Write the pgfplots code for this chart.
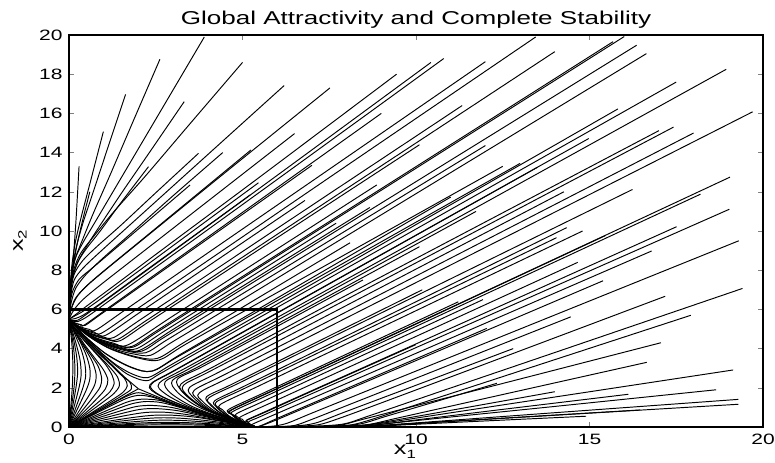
\documentclass[border=0pt]{standalone}
\usepackage{fontspec}
\setmainfont{Liberation Sans}
\usepackage{graphicx}
\usepackage{pgfplots}
\pgfplotsset{compat=1.18}
\newcommand{\sx}[1]{\scalebox{1.4}[1]{#1}}
\begin{document}
\begin{tikzpicture}
\begin{axis}[
  name=ax,
  width=347pt, height=196pt, scale only axis,
  xmin=0, xmax=20, ymin=0, ymax=20,
  xtick={0,5,...,20}, ytick={0,2,...,20},
  tick align=inside, tick pos=both, major tick length=2.5pt,
  /pgf/number format/assume math mode=true,
  xticklabel={\sx{\pgfmathprintnumber{\tick}}},
  yticklabel={\sx{\pgfmathprintnumber{\tick}}},
  ticklabel style={font=\fontsize{7.5}{8}\selectfont},
  xticklabel style={inner sep=0pt, yshift=-3.5pt},
  yticklabel style={inner sep=0pt, xshift=-3pt},
  axis line style={line width=0.6pt},
  title={\sx{Global Attractivity and Complete Stability}},
  every axis title/.style={font=\fontsize{9.3}{10}\selectfont, at={(rel axis cs:0.5,1)}, anchor=south, inner sep=0pt, yshift=3pt},
  xlabel={\sx{x\raisebox{-0.4ex}{\fontsize{6}{6}\selectfont 1}}},
  every axis x label/.style={at={(rel axis cs:0.484,0)}, anchor=north, inner sep=0pt, yshift=-9pt, font=\fontsize{9}{10}\selectfont},
  ylabel={\sx{x\raisebox{-0.4ex}{\fontsize{6}{6}\selectfont 2}}},
  every axis y label/.style={at={(rel axis cs:0,0.475)}, xshift=-21pt, rotate=90, anchor=south, inner sep=0pt, font=\fontsize{9}{10}\selectfont},
  traj/.style={black, line width=0.48pt, smooth, tension=0.5, mark=none},
]
% ---- upper family, steep (near x2 axis)
\addplot[traj] coordinates {(0.29,13.3)(0.2,10.5)(0.12,8.5)(0.05,6.8)(0.01,5.7)(0,5.5)};
\addplot[traj] coordinates {(0.6,12.0)(0.4,10.6)(0.22,9.2)(0.1,7.9)(0.04,6.8)(0.01,5.9)(0,5.55)};
\addplot[traj] coordinates {(0.99,15.07)(0.6,12.4)(0.35,10.7)(0.18,9.4)(0.08,8.2)(0.03,7.0)(0.01,6.0)(0,5.55)};
\addplot[traj] coordinates {(1.63,16.97)(1.1,14.15)(0.7,12.0)(0.4,10.4)(0.2,9.1)(0.08,7.9)(0.03,6.8)(0.01,5.9)(0,5.55)};
\addplot[traj] coordinates {(2.62,18.76)(1.8,15.4)(1.18,12.84)(0.7,10.9)(0.4,9.6)(0.2,8.7)(0.08,7.8)(0.03,6.8)(0.01,5.9)(0,5.55)};
\addplot[traj] coordinates {(3.32,16.6)(2.3,13.96)(1.5,11.9)(0.9,10.3)(0.5,9.2)(0.25,8.4)(0.1,7.6)(0.04,6.7)(0.01,5.9)(0,5.55)};
\addplot[traj] coordinates {(3.9,19.9)(2.6,16.0)(1.5,12.7)(0.8,10.6)(0.4,9.4)(0.18,8.6)(0.07,7.7)(0.025,6.7)(0.005,5.9)(0,5.55)};
\addplot[traj] coordinates {(5.0,18.6)(3.5,15.5)(2.2,12.8)(1.3,11.0)(0.7,9.7)(0.35,8.9)(0.15,8.1)(0.05,7.1)(0.015,6.1)(0,5.55)};
\addplot[traj] coordinates {(2.29,13.28)(1.5,11.45)(0.9,10.0)(0.5,9.1)(0.25,8.4)(0.1,7.6)(0.04,6.7)(0.01,5.9)(0,5.55)};
\addplot[traj] coordinates {(3.73,13.96)(2.5,11.95)(1.5,10.3)(0.8,9.2)(0.4,8.5)(0.15,7.8)(0.05,6.9)(0.015,6.0)(0,5.55)};
\addplot[traj] coordinates {(4.43,14.0)(3,11.8)(1.8,9.9)(1.0,8.65)(0.5,7.8)(0.2,7.1)(0.07,6.4)(0.02,5.8)(0,5.55)};
\addplot[traj] coordinates {(5.24,14.13)(3.6,11.74)(2.2,9.7)(1.2,8.25)(0.6,7.35)(0.25,6.7)(0.08,6.1)(0.02,5.7)(0,5.52)};
\addplot[traj] coordinates {(3.49,12.35)(2.3,10.55)(1.3,9.05)(0.7,8.15)(0.3,7.55)(0.1,6.9)(0.03,6.2)(0,5.55)};
\addplot[traj] coordinates {(6.2,17.42)(4,13.9)(2,10.7)(0.9,8.94)(0.4,8.1)(0.15,7.5)(0.05,6.7)(0.015,6.0)(0,5.55)};
\addplot[traj] coordinates {(6.5,14.97)(4,11.52)(2,8.76)(0.9,7.24)(0.4,6.5)(0.15,6.0)(0.04,5.65)(0,5.5)};
\addplot[traj] coordinates {(5.46,12.46)(3.8,10.3)(2.4,8.47)(1.4,7.17)(0.8,6.39)(0.4,5.9)(0.15,5.65)(0,5.5)};
\addplot[traj] coordinates {(5.22,11.84)(3.6,9.76)(2.3,8.1)(1.4,6.94)(0.8,6.17)(0.4,5.7)(0.15,5.52)(0,5.5)};
\addplot[traj] coordinates {(7.52,17.3)(4.5,12.98)(2.2,9.67)(1.0,7.94)(0.45,7.1)(0.18,6.55)(0.06,6.0)(0.01,5.6)(0,5.5)};
\addplot[traj] coordinates {(9.44,18)(5.5,12.76)(2.8,9.2)(1.2,7.08)(0.5,6.16)(0.2,5.75)(0.05,5.56)(0,5.5)};
\addplot[traj] coordinates {(10.43,18.6)(6,12.84)(3,8.97)(1.2,6.65)(0.55,5.81)(0.25,5.45)(0.08,5.45)(0,5.5)};
\addplot[traj] coordinates {(10.8,18.8)(6,12.63)(3,8.79)(1.2,6.49)(0.55,5.66)(0.25,5.38)(0.08,5.42)(0,5.5)};
% ---- upper family, middle
\addplot[traj] coordinates {(7,13.35)(4,9.6)(2,7.1)(0.9,5.73)(0.47,5.19)(0.35,5.22)(0.21,5.28)(0.09,5.38)(0,5.5)};
\addplot[traj] coordinates {(12,18.64)(7,12.54)(3.5,8.27)(1.6,5.95)(0.79,4.96)(0.59,4.98)(0.36,5.09)(0.16,5.27)(0,5.5)};
\addplot[traj] coordinates {(6.8,11.56)(4,8.2)(2.2,6.04)(1.09,4.71)(0.82,4.75)(0.49,4.92)(0.22,5.17)(0,5.5)};
\addplot[traj] coordinates {(13.45,19.9)(8,13.33)(4,8.49)(2.0,6.07)(0.96,4.81)(0.72,4.85)(0.43,4.99)(0.19,5.22)(0,5.5)};
\addplot[traj] coordinates {(9,16)(5,10.95)(2.5,7.8)(1.2,6.16)(0.44,5.2)(0.33,5.22)(0.2,5.28)(0.09,5.38)(0,5.5)};
\addplot[traj] coordinates {(11.33,16.4)(7,11.31)(4,7.77)(2.0,5.41)(1.28,4.56)(0.96,4.61)(0.58,4.81)(0.26,5.12)(0,5.5)};
\addplot[traj] coordinates {(8.87,12.35)(5,7.95)(3,5.67)(1.71,4.2)(1.28,4.28)(0.77,4.56)(0.34,4.98)(0,5.5)};
\addplot[traj] coordinates {(8.67,11.2)(5,7.18)(3,4.98)(2.03,3.91)(1.52,4.01)(0.91,4.36)(0.41,4.88)(0,5.5)};
\addplot[traj] coordinates {(10.1,14.4)(6,9.66)(3.5,6.76)(2.2,5.25)(1.47,4.40)(1.10,4.47)(0.66,4.70)(0.29,5.06)(0,5.5)};
\addplot[traj] coordinates {(14.0,19.15)(8,12.16)(4,7.5)(2.2,5.40)(1.4,4.465)(1.05,4.52)(0.63,4.745)(0.28,5.085)(0,5.5)};
\addplot[traj] coordinates {(16,19.92)(9,12.08)(5,7.6)(2.6,4.91)(1.86,4.08)(1.40,4.16)(0.84,4.47)(0.37,4.94)(0,5.5)};
\addplot[traj] coordinates {(15.68,19.66)(8,11.04)(4,6.56)(2.5,4.88)(1.81,4.11)(1.36,4.19)(0.81,4.50)(0.36,4.95)(0,5.5)};
\addplot[traj] coordinates {(12,14.36)(7,8.96)(4,5.72)(2.8,4.42)(2.21,3.79)(1.66,3.88)(1.0,4.25)(0.44,4.82)(0,5.5)};
\addplot[traj] coordinates {(16.36,19.48)(8,10.33)(4,5.95)(2.7,4.53)(2.1,3.87)(1.575,3.96)(0.945,4.32)(0.42,4.86)(0,5.5)};
\addplot[traj] coordinates {(16.64,19.05)(8,9.75)(3.95,5.38)(2.95,4.31)(2.35,3.66)(1.88,3.72)(1.41,3.92)(0.94,4.27)(0.59,4.63)(0.28,5.03)(0,5.5)};
\addplot[traj] coordinates {(15.82,16.23)(8,8.3)(4,4.25)(2.9,3.13)(2.28,2.525)(1.83,2.70)(1.37,3.16)(0.91,3.82)(0.57,4.41)(0.27,4.96)(0,5.5)};
\addplot[traj] coordinates {(12.5,13.3)(6,6.86)(3.4,4.26)(2.6,3.42)(1.95,3.54)(1.17,4.0)(0.52,4.69)(0,5.5)};
\addplot[traj] coordinates {(13,13.45)(6,6.45)(3.2,3.65)(2.4,2.85)(1.8,3.03)(1.08,3.71)(0.48,4.60)(0,5.5)};
\addplot[traj] coordinates {(11,11.73)(6,6.58)(3.3,3.8)(2.4,2.86)(1.8,3.05)(1.08,3.72)(0.48,4.60)(0,5.5)};
\addplot[traj] coordinates {(17.5,17.6)(8,8.1)(3.5,3.6)(2.6,2.7)(2.225,2.36)(1.67,2.71)(1.0,3.66)(0.45,4.63)(0,5.5)};
\addplot[traj] coordinates {(8.1,9.4)(5,6.11)(3.3,4.30)(2.54,3.5)(1.9,3.60)(1.14,4.05)(0.51,4.71)(0,5.5)};
\addplot[traj] coordinates {(7.7,10.4)(4.5,6.84)(2.8,4.95)(1.94,3.99)(1.46,4.08)(0.87,4.41)(0.39,4.91)(0,5.5)};
% ---- lower family
\addplot[traj] coordinates {(18.94,18.25)(8.5,8.03)(3.6,3.24)(2.6,2.24)(2.79,1.68)(3.50,1.01)(4.44,0.45)(5.4,0)};
\addplot[traj] coordinates {(14.98,14.72)(7,6.82)(3.2,3.05)(2.33,2.15)(2.61,1.61)(3.47,0.97)(4.47,0.43)(5.4,0)};
\addplot[traj] coordinates {(11.73,11)(6,5.44)(3.4,2.91)(2.77,2.305)(2.93,1.73)(3.56,1.04)(4.45,0.46)(5.4,0)};
\addplot[traj] coordinates {(17.42,15.3)(8,6.51)(4.2,2.97)(3.3,2.13)(3.42,1.6)(3.91,0.96)(4.60,0.43)(5.4,0)};
\addplot[traj] coordinates {(17,15.12)(8,6.73)(4.2,3.11)(3.23,2.2)(3.35,1.65)(3.85,0.99)(4.57,0.44)(5.4,0)};
\addplot[traj] coordinates {(14.26,12)(7,5.28)(4.3,2.78)(3.47,2.01)(3.58,1.51)(4.01,0.90)(4.66,0.40)(5.4,0)};
\addplot[traj] coordinates {(18,15)(8,5.88)(4.6,2.78)(3.61,1.875)(3.71,1.41)(4.11,0.84)(4.71,0.375)(5.4,0)};
\addplot[traj] coordinates {(19.7,16.08)(9,6.47)(4.8,2.69)(3.76,1.75)(3.85,1.31)(4.22,0.79)(4.76,0.35)(5.4,0)};
\addplot[traj] coordinates {(10.18,7)(6,3.33)(4.6,2.1)(3.97,1.555)(4.05,1.17)(4.37,0.70)(4.84,0.31)(5.4,0)};
\addplot[traj] coordinates {(14.8,10)(8,4.24)(5.5,2.12)(4.37,1.16)(4.43,0.87)(4.65,0.52)(4.99,0.23)(5.4,0)};
\addplot[traj] coordinates {(19.05,12.75)(10,5.27)(6,1.97)(4.66,0.86)(4.70,0.645)(4.86,0.39)(5.10,0.17)(5.4,0)};
\addplot[traj] coordinates {(18.2,11.88)(10,5.13)(6,1.84)(4.73,0.8)(4.76,0.6)(4.91,0.36)(5.13,0.16)(5.4,0)};
\addplot[traj] coordinates {(11.93,6.5)(7,2.46)(5.5,1.23)(4.83,0.68)(4.86,0.51)(4.98,0.31)(5.17,0.14)(5.4,0)};
\addplot[traj] coordinates {(19.03,11.11)(10,4.05)(6.5,1.31)(5.5,0.52)(5.18,0.275)(5.22,0.15)(5.3,0.05)(5.4,0)};
\addplot[traj] coordinates {(16.24,12.12)(8,4.95)(5,2.33)(4.03,1.49)(4.11,1.12)(4.41,0.67)(4.87,0.30)(5.4,0)};
\addplot[traj] coordinates {(17.51,10.22)(10,4.24)(6.5,1.46)(5.6,0.74)(5.12,0.355)(5.14,0.27)(5.19,0.16)(5.28,0.07)(5.4,0)};
\addplot[traj] coordinates {(16.79,8.98)(10,3.76)(7,1.46)(5.8,0.54)(5.29,0.145)(5.3,0.07)(5.4,0)};
\addplot[traj] coordinates {(9.99,4.2)(7,1.83)(5.8,0.87)(5.13,0.345)(5.15,0.26)(5.2,0.15)(5.28,0.06)(5.4,0)};
\addplot[traj] coordinates {(14.34,10.17)(7,3.78)(5,2.04)(4.2,1.34)(4.26,1.0)(4.53,0.6)(4.93,0.27)(5.4,0)};
\addplot[traj] coordinates {(14.05,9.66)(7,3.63)(5,1.92)(4.25,1.285)(4.31,0.96)(4.57,0.58)(4.95,0.26)(5.4,0)};
\addplot[traj] coordinates {(15.45,9.76)(8,3.6)(5.8,1.79)(4.67,0.85)(4.71,0.64)(4.87,0.38)(5.11,0.17)(5.4,0)};
\addplot[traj] coordinates {(14.66,8.4)(8,3.0)(6,1.38)(4.96,0.535)(4.99,0.40)(5.08,0.24)(5.22,0.11)(5.4,0)};
\addplot[traj] coordinates {(15.39,7.46)(10,3.39)(7,1.13)(6,0.38)(5.6,0.1)(5.45,0.02)(5.4,0)};
\addplot[traj] coordinates {(19.3,9.5)(13,5.0)(9,2.14)(7,0.71)(6.3,0.2)(5.9,0.05)(5.4,0)};
\addplot[traj] coordinates {(17.18,6.67)(12,3.22)(9,1.23)(7.8,0.45)(7.2,0.12)(6.5,0.035)(5.9,0.01)(5.4,0)};
\addplot[traj] coordinates {(12.8,4)(10,2.13)(8,0.8)(7.1,0.2)(6.5,0.05)(5.9,0.015)(5.4,0)};
\addplot[traj] coordinates {(19.41,7.07)(14,3.80)(10.5,1.69)(8.6,0.54)(7.9,0.15)(7.0,0.04)(6.0,0.01)(5.4,0)};
\addplot[traj] coordinates {(17.92,5.7)(13,2.86)(10,1.13)(8.6,0.32)(8.0,0.08)(7.0,0.025)(6.0,0.008)(5.4,0)};
\addplot[traj] coordinates {(17.06,4.3)(13,2.45)(10,1.09)(8.4,0.36)(7.8,0.09)(7.0,0.025)(6,0.008)(5.4,0)};
\addplot[traj] coordinates {(14.46,5.62)(10,2.49)(8,1.09)(7,0.39)(6.5,0.08)(6.0,0.02)(5.4,0)};
\addplot[traj] coordinates {(12.04,5.03)(9,2.72)(7,1.2)(6,0.44)(5.6,0.12)(5.45,0.02)(5.4,0)};
\addplot[traj] coordinates {(11.22,6.39)(7,2.89)(5.6,1.73)(4.61,0.907)(4.66,0.68)(4.83,0.41)(5.09,0.18)(5.4,0)};
\addplot[traj] coordinates {(16.65,3.3)(12,1.46)(9.5,0.47)(8.6,0.12)(7.8,0.04)(6.8,0.015)(5.4,0)};
\addplot[traj] coordinates {(19.14,2.91)(14,1.53)(10.5,0.59)(9,0.19)(8.1,0.05)(7,0.015)(5.4,0)};
\addplot[traj] coordinates {(18.65,1.9)(14,1.05)(11,0.51)(9.2,0.18)(8.4,0.04)(7.2,0.012)(5.4,0)};
\addplot[traj] coordinates {(12.33,2.23)(10.5,1.26)(9.2,0.58)(8.4,0.16)(7.6,0.04)(6.5,0.01)(5.4,0)};
\addplot[traj] coordinates {(14,1.8)(11,0.85)(9.3,0.32)(8.5,0.08)(7.5,0.02)(5.4,0)};
\addplot[traj] coordinates {(16.12,1.67)(12.5,0.90)(10,0.36)(8.8,0.1)(7.8,0.025)(5.4,0)};
\addplot[traj] coordinates {(19.29,1.41)(14,0.73)(11,0.34)(9.2,0.11)(8.2,0.03)(5.4,0)};
\addplot[traj] coordinates {(19.29,1.16)(14,0.60)(11,0.28)(9.3,0.10)(8.3,0.025)(5.4,0)};
\addplot[traj] coordinates {(16.46,0.87)(12,0.40)(10,0.19)(8.8,0.06)(7.8,0.015)(5.4,0)};
\addplot[traj] coordinates {(14.9,0.55)(12,0.31)(10,0.14)(8.8,0.04)(7.5,0.01)(5.4,0)};
\addplot[traj] coordinates {(8.47,7.5)(5,4.18)(3.8,3.04)(3.12,2.43)(3.26,1.82)(3.78,1.09)(4.54,0.49)(5.4,0)};
\addplot[traj] coordinates {(10.1,9.2)(6,5.26)(3.7,3.05)(2.98,2.38)(3.12,1.785)(3.68,1.07)(4.49,0.48)(5.4,0)};
\addplot[traj] coordinates {(13.5,13.25)(6,5.81)(3.1,2.93)(2.36,2.16)(2.62,1.62)(3.47,0.97)(4.46,0.43)(5.4,0)};
% ---- inner trajectories from the origin, to (0,5.5)
\addplot[traj] coordinates {(0,0)(0.6,0.63)(1.2,1.25)(1.6,1.68)(1.8,1.95)(1.75,2.30)(1.5,2.66)(1.1,3.35)(0.7,4.0)(0.35,4.7)(0.1,5.2)(0,5.5)};
\addplot[traj] coordinates {(0,0)(0.6,0.67)(1.2,1.34)(1.55,1.76)(1.68,2.1)(1.6,2.48)(1.32,3.0)(0.95,3.65)(0.57,4.3)(0.25,4.88)(0.07,5.28)(0,5.5)};
\addplot[traj] coordinates {(0,0)(0.5,0.65)(1.0,1.3)(1.3,1.72)(1.45,2.1)(1.4,2.55)(1.15,3.1)(0.8,3.75)(0.45,4.4)(0.15,5.05)(0,5.5)};
\addplot[traj] coordinates {(0,0)(0.45,0.68)(0.9,1.35)(1.18,1.8)(1.3,2.2)(1.24,2.65)(1.05,3.2)(0.75,3.8)(0.42,4.45)(0.15,5.08)(0,5.5)};
\addplot[traj] coordinates {(0,0)(0.4,0.72)(0.8,1.44)(1.05,1.95)(1.12,2.4)(1.0,2.9)(0.75,3.5)(0.45,4.2)(0.18,4.95)(0,5.5)};
\addplot[traj] coordinates {(0,0)(0.35,0.77)(0.7,1.54)(0.9,2.05)(0.94,2.5)(0.84,3.1)(0.62,3.7)(0.36,4.35)(0.12,5.05)(0,5.5)};
\addplot[traj] coordinates {(0,0)(0.3,0.84)(0.6,1.68)(0.75,2.2)(0.78,2.7)(0.68,3.3)(0.48,3.95)(0.25,4.6)(0.08,5.15)(0,5.5)};
\addplot[traj] coordinates {(0,0)(0.25,0.95)(0.5,1.9)(0.6,2.45)(0.6,3.0)(0.5,3.65)(0.32,4.35)(0.12,5.0)(0,5.5)};
\addplot[traj] coordinates {(0,0)(0.2,1.0)(0.4,2.0)(0.48,2.6)(0.46,3.2)(0.36,3.9)(0.2,4.6)(0.06,5.2)(0,5.5)};
\addplot[traj] coordinates {(0,0)(0.15,1.05)(0.3,2.1)(0.35,2.7)(0.32,3.4)(0.22,4.15)(0.09,4.95)(0,5.5)};
\addplot[traj] coordinates {(0,0)(0.1,1.0)(0.2,2.0)(0.25,2.8)(0.22,3.6)(0.14,4.4)(0.05,5.1)(0,5.5)};
\addplot[traj] coordinates {(0,0)(0.07,1.0)(0.15,2.1)(0.17,3.0)(0.14,3.9)(0.07,4.8)(0,5.5)};
\addplot[traj] coordinates {(0,0)(0.05,1.0)(0.1,2.2)(0.11,3.3)(0.08,4.3)(0.03,5.1)(0,5.5)};
% ---- inner trajectories from the origin, to (5.4,0)
\addplot[traj] coordinates {(0,0)(0.63,0.6)(1.25,1.2)(1.7,1.6)(2.0,1.75)(2.35,1.6)(2.9,1.25)(3.6,0.82)(4.4,0.41)(5.0,0.13)(5.4,0)};
\addplot[traj] coordinates {(0,0)(0.67,0.6)(1.34,1.2)(1.72,1.5)(2.05,1.62)(2.45,1.5)(3.0,1.15)(3.65,0.76)(4.3,0.42)(4.85,0.16)(5.2,0.04)(5.4,0)};
\addplot[traj] coordinates {(0,0)(0.65,0.5)(1.3,1.0)(1.72,1.3)(2.1,1.42)(2.6,1.36)(3.2,1.05)(3.9,0.66)(4.6,0.29)(5.1,0.08)(5.4,0)};
\addplot[traj] coordinates {(0,0)(0.68,0.45)(1.35,0.9)(1.8,1.18)(2.2,1.3)(2.65,1.25)(3.2,1.0)(3.85,0.64)(4.5,0.32)(5.0,0.1)(5.4,0)};
\addplot[traj] coordinates {(0,0)(0.72,0.4)(1.44,0.8)(1.95,1.05)(2.4,1.1)(2.95,1.0)(3.6,0.72)(4.3,0.4)(4.9,0.15)(5.4,0)};
\addplot[traj] coordinates {(0,0)(0.77,0.35)(1.54,0.7)(2.05,0.9)(2.5,0.94)(3.1,0.84)(3.7,0.62)(4.35,0.36)(4.95,0.12)(5.4,0)};
\addplot[traj] coordinates {(0,0)(0.84,0.3)(1.68,0.6)(2.2,0.74)(2.7,0.76)(3.3,0.66)(3.95,0.46)(4.6,0.24)(5.1,0.07)(5.4,0)};
\addplot[traj] coordinates {(0,0)(0.95,0.25)(1.9,0.5)(2.45,0.6)(3.0,0.6)(3.65,0.5)(4.35,0.3)(5.0,0.1)(5.4,0)};
\addplot[traj] coordinates {(0,0)(1.0,0.2)(2.0,0.4)(2.6,0.47)(3.2,0.45)(3.9,0.34)(4.6,0.18)(5.15,0.05)(5.4,0)};
\addplot[traj] coordinates {(0,0)(1.05,0.15)(2.1,0.3)(2.7,0.35)(3.4,0.32)(4.15,0.22)(4.95,0.08)(5.4,0)};
\addplot[traj] coordinates {(0,0)(1,0.1)(2,0.2)(2.8,0.24)(3.6,0.21)(4.4,0.13)(5.1,0.04)(5.4,0)};
\addplot[traj] coordinates {(0,0)(1,0.07)(2.1,0.15)(3.0,0.17)(3.9,0.14)(4.8,0.06)(5.4,0)};
\addplot[traj] coordinates {(0,0)(1,0.05)(2.2,0.1)(3.3,0.11)(4.3,0.07)(5.1,0.02)(5.4,0)};
% ---- separatrix and unstable manifolds of the saddle
\addplot[traj] coordinates {(0,0)(0.7,0.68)(1.4,1.365)(2,1.95)};
\addplot[traj] coordinates {(2,1.95)(1.6,2.55)(1.18,3.27)(0.8,3.9)(0.51,4.44)(0.25,4.9)(0.1,5.2)(0,5.5)};
\addplot[traj] coordinates {(2,1.95)(3,1.22)(3.97,0.61)(4.73,0.27)(5.2,0.05)(5.4,0)};
% ---- box
\addplot[black, line width=1.1pt, sharp plot, mark=none] coordinates {(0,0)(0,6)(6,6)(6,0)(0,0)};
\end{axis}
\pgfresetboundingbox
\path (ax.south west) ++(-34.5pt,-17.5pt) rectangle ++(387.5pt,231pt);
\end{tikzpicture}
\end{document}
